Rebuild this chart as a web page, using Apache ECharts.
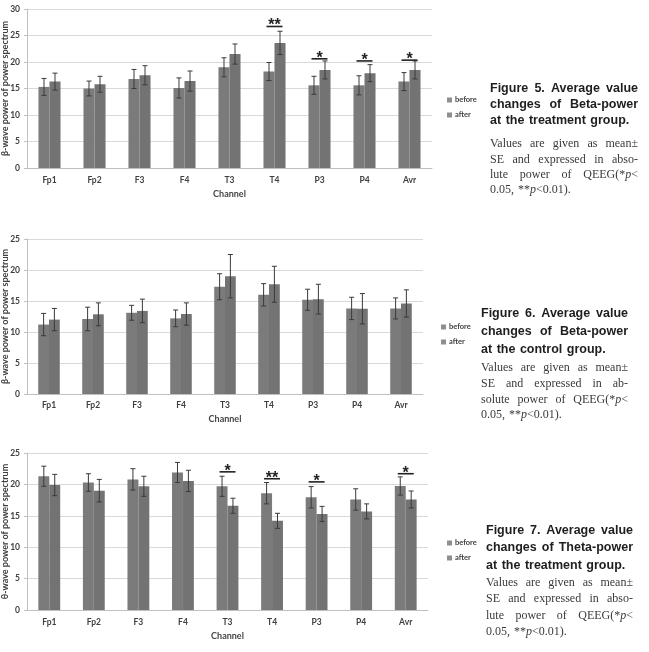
<!DOCTYPE html>
<html><head><meta charset="utf-8">
<script src="https://cdn.jsdelivr.net/npm/echarts@6/dist/echarts.min.js"></script>
<style>html,body{margin:0;padding:0;background:#fff}#c{width:649px;height:652px}</style>
</head><body><div id="c"></div>
<script>
// ---------- data ----------
const channels = ['Fp1','Fp2','F3','F4','T3','T4','P3','P4','Avr'];

// Figure 5: Beta-power, treatment group
const fig5Before   = [15.3, 15.0, 16.8, 15.1, 19.0, 18.2, 15.6, 15.6, 16.3];
const fig5BeforeSE = [1.6, 1.4, 1.8, 1.9, 1.8, 1.7, 1.7, 1.8, 1.7];
const fig5After    = [16.3, 15.8, 17.5, 16.4, 21.5, 23.6, 18.5, 17.9, 18.5];
const fig5AfterSE  = [1.6, 1.5, 1.8, 1.9, 1.9, 2.2, 1.7, 1.6, 1.7];
const fig5SigIdx   = [5, 6, 7, 8];
const fig5SigLevel = [26.7, 20.6, 20.2, 20.35];
const fig5SigText  = ['**', '*', '*', '*'];

// Figure 6: Beta-power, control group
const fig6Before   = [11.2, 12.1, 13.1, 12.2, 17.3, 16.0, 15.2, 13.8, 13.8];
const fig6BeforeSE = [1.8, 1.9, 1.2, 1.35, 2.1, 1.8, 1.7, 1.8, 1.7];
const fig6After    = [12.0, 12.85, 13.4, 12.9, 19.0, 17.7, 15.3, 13.75, 14.6];
const fig6AfterSE  = [1.8, 1.85, 1.9, 1.8, 3.5, 2.9, 2.4, 2.45, 2.2];
const fig6SigIdx   = [];
const fig6SigLevel = [];
const fig6SigText  = [];

// Figure 7: Theta-power, treatment group
const fig7Before   = [21.3, 20.3, 20.8, 21.9, 19.7, 18.6, 17.95, 17.6, 19.75];
const fig7BeforeSE = [1.6, 1.4, 1.7, 1.6, 1.6, 1.7, 1.7, 1.7, 1.45];
const fig7After    = [19.9, 19.0, 19.7, 20.55, 16.6, 14.2, 15.3, 15.7, 17.6];
const fig7AfterSE  = [1.7, 1.8, 1.6, 1.7, 1.2, 1.2, 1.2, 1.2, 1.35];
const fig7SigIdx   = [4, 5, 6, 8];
const fig7SigLevel = [22.0, 20.9, 20.4, 21.7];
const fig7SigText  = ['*', '**', '*', '*'];

const yMax = [30, 25, 25];
const yInterval = 5;
const yNames = ['β-wave power of power spectrum', 'β-wave power of power spectrum', 'θ-wave power of power spectrum'];
const xName = 'Channel';
const legendNames = ['before', 'after'];

const captions = [
  { head: ['Figure 5. Average value', 'changes of Beta-power', 'at the treatment group.'],
    body: ['Values are given as mean±', 'SE and expressed in abso-', 'lute power of QEEG(*{i|p}<', '0.05, **{i|p}<0.01).'] },
  { head: ['Figure 6. Average value', 'changes of Beta-power', 'at the control group.'],
    body: ['Values are given as mean±', 'SE and expressed in ab-', 'solute power of QEEG(*{i|p}<', '0.05, **{i|p}<0.01).'] },
  { head: ['Figure 7. Average value', 'changes of Theta-power', 'at the treatment group.'],
    body: ['Values are given as mean±', 'SE and expressed in abso-', 'lute power of QEEG(*{i|p}<', '0.05, **{i|p}<0.01).'] }
];

// ---------- layout ----------
const grids = [
  {left: 27, top: 9, width: 405, height: 159, outerBoundsMode: 'none', containLabel: false},
  {left: 27, top: 239, width: 396, height: 155, outerBoundsMode: 'none', containLabel: false},
  {left: 27, top: 453, width: 401, height: 157, outerBoundsMode: 'none', containLabel: false}
];
const xLabelMargin = [8, 7, 8];
const xNameGap = [22, 21, 22];
const legendPos = [{left: 442, top: 91}, {left: 436, top: 318}, {left: 442, top: 534}];
const captionBox = [
  {x0: 490, x1: 638, ys: [89, 105, 121, 144, 160, 175, 190]},
  {x0: 481, x1: 628, ys: [314, 332, 350, 368, 384, 400, 415]},
  {x0: 486, x1: 633, ys: [531, 548, 566, 583, 599, 616, 632]}
];

const CAT_GAP = 0.51;
const FONT = 'Lato, "Open Sans", sans-serif';

function errRender(side) {
  return function (params, api) {
    const ci = api.value(0), lo = api.value(1), hi = api.value(2);
    const bw = api.size([1, 0])[0];
    const barW = bw * (1 - CAT_GAP) / 2;
    const cx = api.coord([ci, 0])[0] + side * barW / 2;
    const pLo = api.coord([ci, lo])[1], pHi = api.coord([ci, hi])[1];
    const cap = 2.5;
    const st = {stroke: '#3a3a3a', lineWidth: 1};
    return {type: 'group', children: [
      {type: 'line', shape: {x1: cx, y1: pLo, x2: cx, y2: pHi}, style: st},
      {type: 'line', shape: {x1: cx - cap, y1: pHi, x2: cx + cap, y2: pHi}, style: st},
      {type: 'line', shape: {x1: cx - cap, y1: pLo, x2: cx + cap, y2: pLo}, style: st}
    ]};
  };
}

function sigRender(texts) {
  return function (params, api) {
    const ci = api.value(0), lvl = api.value(1);
    const p = api.coord([ci, lvl]);
    const half = 8;
    return {type: 'group', children: [
      {type: 'line', shape: {x1: p[0] - half, y1: p[1], x2: p[0] + half, y2: p[1]}, style: {stroke: '#222', lineWidth: 1.6}},
      {type: 'text', x: p[0], y: p[1] - 0.5, style: {text: texts[params.dataIndex], align: 'center', verticalAlign: 'middle', font: 'bold 16px "Liberation Sans", sans-serif', fill: '#222'}}
    ]};
  };
}

const figs = [
  [fig5Before, fig5BeforeSE, fig5After, fig5AfterSE, fig5SigIdx, fig5SigLevel, fig5SigText],
  [fig6Before, fig6BeforeSE, fig6After, fig6AfterSE, fig6SigIdx, fig6SigLevel, fig6SigText],
  [fig7Before, fig7BeforeSE, fig7After, fig7AfterSE, fig7SigIdx, fig7SigLevel, fig7SigText]
];

const xAxis = [], yAxis = [], series = [], legend = [];
figs.forEach((f, k) => {
  const [b, bse, a, ase, sIdx, sLvl, sTxt] = f;
  xAxis.push({
    type: 'category', gridIndex: k, data: channels,
    axisLine: {lineStyle: {color: '#c0c0c0', width: 1}},
    axisTick: {show: false},
    axisLabel: {fontSize: 8.5, fontWeight: 'bold', color: '#404040', margin: xLabelMargin[k], fontFamily: FONT},
    name: xName, nameLocation: 'middle', nameGap: xNameGap[k], nameMoveOverlap: false,
    nameTextStyle: {fontSize: 9, fontWeight: 'bold', color: '#454545', fontFamily: FONT}
  });
  yAxis.push({
    type: 'value', gridIndex: k, min: 0, max: yMax[k], interval: yInterval,
    axisLine: {show: true, lineStyle: {color: '#c0c0c0', width: 1}},
    axisTick: {show: true, length: 3, lineStyle: {color: '#c0c0c0'}},
    splitLine: {lineStyle: {color: '#d9d9d9', width: 1}},
    axisLabel: {fontSize: 8.5, fontWeight: 'bold', color: '#404040', margin: 7, fontFamily: FONT},
    name: yNames[k], nameLocation: 'middle', nameGap: 17, nameRotate: 90, nameMoveOverlap: false,
    nameTextStyle: {fontSize: 9, fontWeight: 'bold', color: '#404040', fontFamily: FONT}
  });
  series.push({
    name: legendNames[0], type: 'bar', xAxisIndex: k, yAxisIndex: k, data: b,
    barGap: '0%', barCategoryGap: (CAT_GAP * 100) + '%',
    itemStyle: {color: '#7b7b7b'}, emphasis: {disabled: true}
  });
  series.push({
    name: legendNames[1], type: 'bar', xAxisIndex: k, yAxisIndex: k, data: a,
    barGap: '0%', barCategoryGap: (CAT_GAP * 100) + '%',
    itemStyle: {color: '#737373'}, emphasis: {disabled: true}
  });
  series.push({
    type: 'custom', xAxisIndex: k, yAxisIndex: k, z: 5,
    renderItem: errRender(-1), encode: {x: 0, y: [1, 2]},
    data: b.map((v, i) => [i, v - bse[i], v + bse[i]])
  });
  series.push({
    type: 'custom', xAxisIndex: k, yAxisIndex: k, z: 5,
    renderItem: errRender(1), encode: {x: 0, y: [1, 2]},
    data: a.map((v, i) => [i, v - ase[i], v + ase[i]])
  });
  if (sIdx.length) {
    series.push({
      type: 'custom', xAxisIndex: k, yAxisIndex: k, z: 6,
      renderItem: sigRender(sTxt), encode: {x: 0, y: 1},
      data: sIdx.map((c, i) => [c, sLvl[i]])
    });
  }
  legend.push({
    data: legendNames, orient: 'vertical', left: legendPos[k].left, top: legendPos[k].top,
    icon: 'rect', itemWidth: 5, itemHeight: 5, itemGap: 7,
    itemStyle: {color: '#8e8e8e'},
    textStyle: {fontSize: 7.5, fontWeight: 'bold', color: '#404040', fontFamily: FONT, padding: [0, 0, 0, -2]},
    selectedMode: false
  });
});

// ---------- captions (justified lines) ----------
const mctx = document.createElement('canvas').getContext('2d');
const HEAD_FONT = 'bold 12.5px "Liberation Sans", Arial, sans-serif';
const BODY_FONT = '12px "Liberation Serif", "DejaVu Serif", serif';
const BODY_IT = 'italic 12px "Liberation Serif", "DejaVu Serif", serif';
function plain(s) { return s.replace(/\{i\|(.*?)\}/g, '$1'); }
function lineEls(text, x0, x1, y, font, fill, justify) {
  const words = text.split(' ');
  mctx.font = font;
  const widths = words.map(w => mctx.measureText(plain(w)).width);
  const total = widths.reduce((s, w) => s + w, 0);
  const gap = (justify && words.length > 1) ? (x1 - x0 - total) / (words.length - 1) : mctx.measureText(' ').width * 1.3;
  const out = [];
  let x = x0;
  words.forEach((w, i) => {
    out.push({type: 'text', x: x, y: y, silent: true,
      style: {text: w, font: font, fill: fill, align: 'left', verticalAlign: 'middle',
        rich: {i: {font: BODY_IT, fill: fill}}}});
    x += widths[i] + gap;
  });
  return out;
}
const graphic = [];
captions.forEach((c, k) => {
  const box = captionBox[k];
  c.head.forEach((t, i) => {
    graphic.push(...lineEls(t, box.x0, box.x1, box.ys[i], HEAD_FONT, '#1e1e1e', i < c.head.length - 1));
  });
  c.body.forEach((t, i) => {
    graphic.push(...lineEls(t, box.x0, box.x1, box.ys[3 + i], BODY_FONT, '#3a3a3a', i < c.body.length - 1));
  });
});

const chart = echarts.init(document.getElementById('c'), null, {renderer: 'canvas'});
chart.setOption({
  animation: false,
  backgroundColor: '#ffffff',
  grid: grids,
  xAxis: xAxis,
  yAxis: yAxis,
  legend: legend,
  series: series,
  graphic: graphic
});
</script>
</body></html>
